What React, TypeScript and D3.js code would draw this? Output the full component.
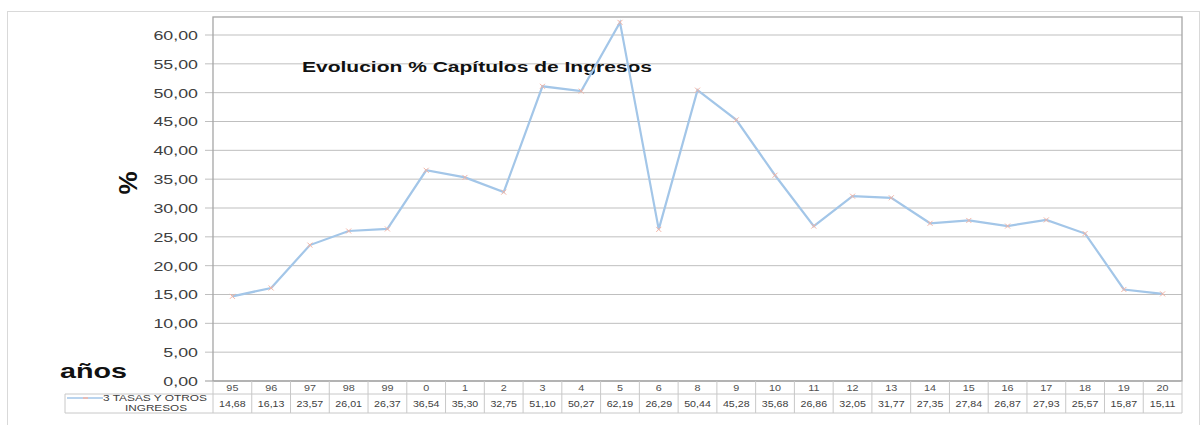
import React from "react";
import * as d3 from "d3";

const categories = ["95","96","97","98","99","0","1","2","3","4","5","6","8","9","10","11","12","13","14","15","16","17","18","19","20"];
const values = [14.68,16.13,23.57,26.01,26.37,36.54,35.30,32.75,51.10,50.27,62.19,26.29,50.44,45.28,35.68,26.86,32.05,31.77,27.35,27.84,26.87,27.93,25.57,15.87,15.11];
const yTicks = [0,5,10,15,20,25,30,35,40,45,50,55,60];
const seriesName = ["3 TASAS Y OTROS", "INGRESOS"];
const title = "Evolucion % Capítulos de Ingresos";

const W = 1203, H = 425;
const plotL = 213, plotR = 1182, plotT = 17;
const fmt = (v: number) => v.toFixed(2).replace(".", ",");

function SText(props: { x: number; y: number; sx: number; children: React.ReactNode; [k: string]: any }) {
  const { x, y, sx, children, ...rest } = props;
  return (
    <g transform={`translate(${x},${y}) scale(${sx},1)`}>
      <text x={0} y={0} {...rest}>{children}</text>
    </g>
  );
}

export default function App() {
  const x = d3.scaleBand<string>().domain(categories).range([plotL, plotR]);
  const y = d3.scaleLinear().domain([0, 60]).range([381, 35]);
  const line = d3.line<number>().x((_, i) => x(categories[i])! + x.bandwidth() / 2).y(d => y(d));
  const font = "'Liberation Sans', Arial, sans-serif";
  const rowTop = y(0), rowMid = 394, rowBot = 413, legL = 65;
  return (
    <svg width={W} height={H} style={{ position: "absolute", left: 0, top: 0, fontFamily: font }}>
      <rect x={0} y={0} width={W} height={H} fill="#fff" />
      <rect x={7.5} y={11.5} width={1192} height={430} fill="none" stroke="#d9d9d9" />
      {yTicks.map(t => (
        <g key={t}>
          <line x1={205} x2={plotR} y1={y(t)} y2={y(t)} stroke={t === 0 ? "#999" : "#bfbfbf"} strokeWidth={1} />
          <SText x={198} y={y(t)} sx={1.32} dy="0.36em" textAnchor="end" fontSize={13.5} fill="#404040">{fmt(t)}</SText>
        </g>
      ))}
      <rect x={plotL} y={plotT} width={plotR - plotL} height={rowTop - plotT} fill="none" stroke="#a6a6a6" strokeWidth={1.3} />
      <text x={302} y={72} textLength={350} lengthAdjust="spacingAndGlyphs" fontSize={14.5} fontWeight="bold" fill="#111">{title}</text>
      <text transform={`translate(137,183) rotate(-90)`} textAnchor="middle" fontSize={26} fontWeight="bold" fill="#111">%</text>
      <text x={60} y={378} textLength={67} lengthAdjust="spacingAndGlyphs" fontSize={21} fontWeight="bold" fill="#111">años</text>
      <path d={line(values) || ""} fill="none" stroke="#a3c6e8" strokeWidth={2.2} />
      {values.map((v, i) => {
        const cx = x(categories[i])! + x.bandwidth() / 2, cy = y(v);
        return (
          <g key={i} stroke="#f4b4a4" strokeWidth={1}>
            <line x1={cx - 2.5} x2={cx + 2.5} y1={cy - 2.5} y2={cy + 2.5} />
            <line x1={cx - 2.5} x2={cx + 2.5} y1={cy + 2.5} y2={cy - 2.5} />
          </g>
        );
      })}
      <line x1={legL} x2={plotR} y1={rowMid} y2={rowMid} stroke="#c8c8c8" />
      <line x1={legL} x2={plotR} y1={rowBot} y2={rowBot} stroke="#c8c8c8" />
      <line x1={legL} x2={legL} y1={rowMid} y2={rowBot} stroke="#c8c8c8" />
      {categories.map((c, i) => {
        const x0 = x(c)!;
        const cx = x0 + x.bandwidth() / 2;
        return (
          <g key={c}>
            <line x1={x0 + x.bandwidth()} x2={x0 + x.bandwidth()} y1={rowTop} y2={rowBot} stroke="#c8c8c8" />
            <SText x={cx} y={388} sx={1.2} dy="0.35em" textAnchor="middle" fontSize={9} fill="#505050">{c}</SText>
            <SText x={cx} y={404} sx={1.12} dy="0.35em" textAnchor="middle" fontSize={9.5} fill="#404040">{fmt(values[i])}</SText>
          </g>
        );
      })}
      <line x1={plotL} x2={plotL} y1={rowTop} y2={rowBot} stroke="#c8c8c8" />
      <line x1={67} x2={103} y1={398} y2={398} stroke="#a3c6e8" strokeWidth={1.5} />
      <line x1={83} x2={88} y1={398} y2={398} stroke="#f4b4a4" strokeWidth={1.5} />
      <text x={103} y={401} textLength={104} lengthAdjust="spacingAndGlyphs" fontSize={9.5} fill="#404040">{seriesName[0]}</text>
      <text x={125} y={411} textLength={62} lengthAdjust="spacingAndGlyphs" fontSize={9.5} fill="#404040">{seriesName[1]}</text>
    </svg>
  );
}
